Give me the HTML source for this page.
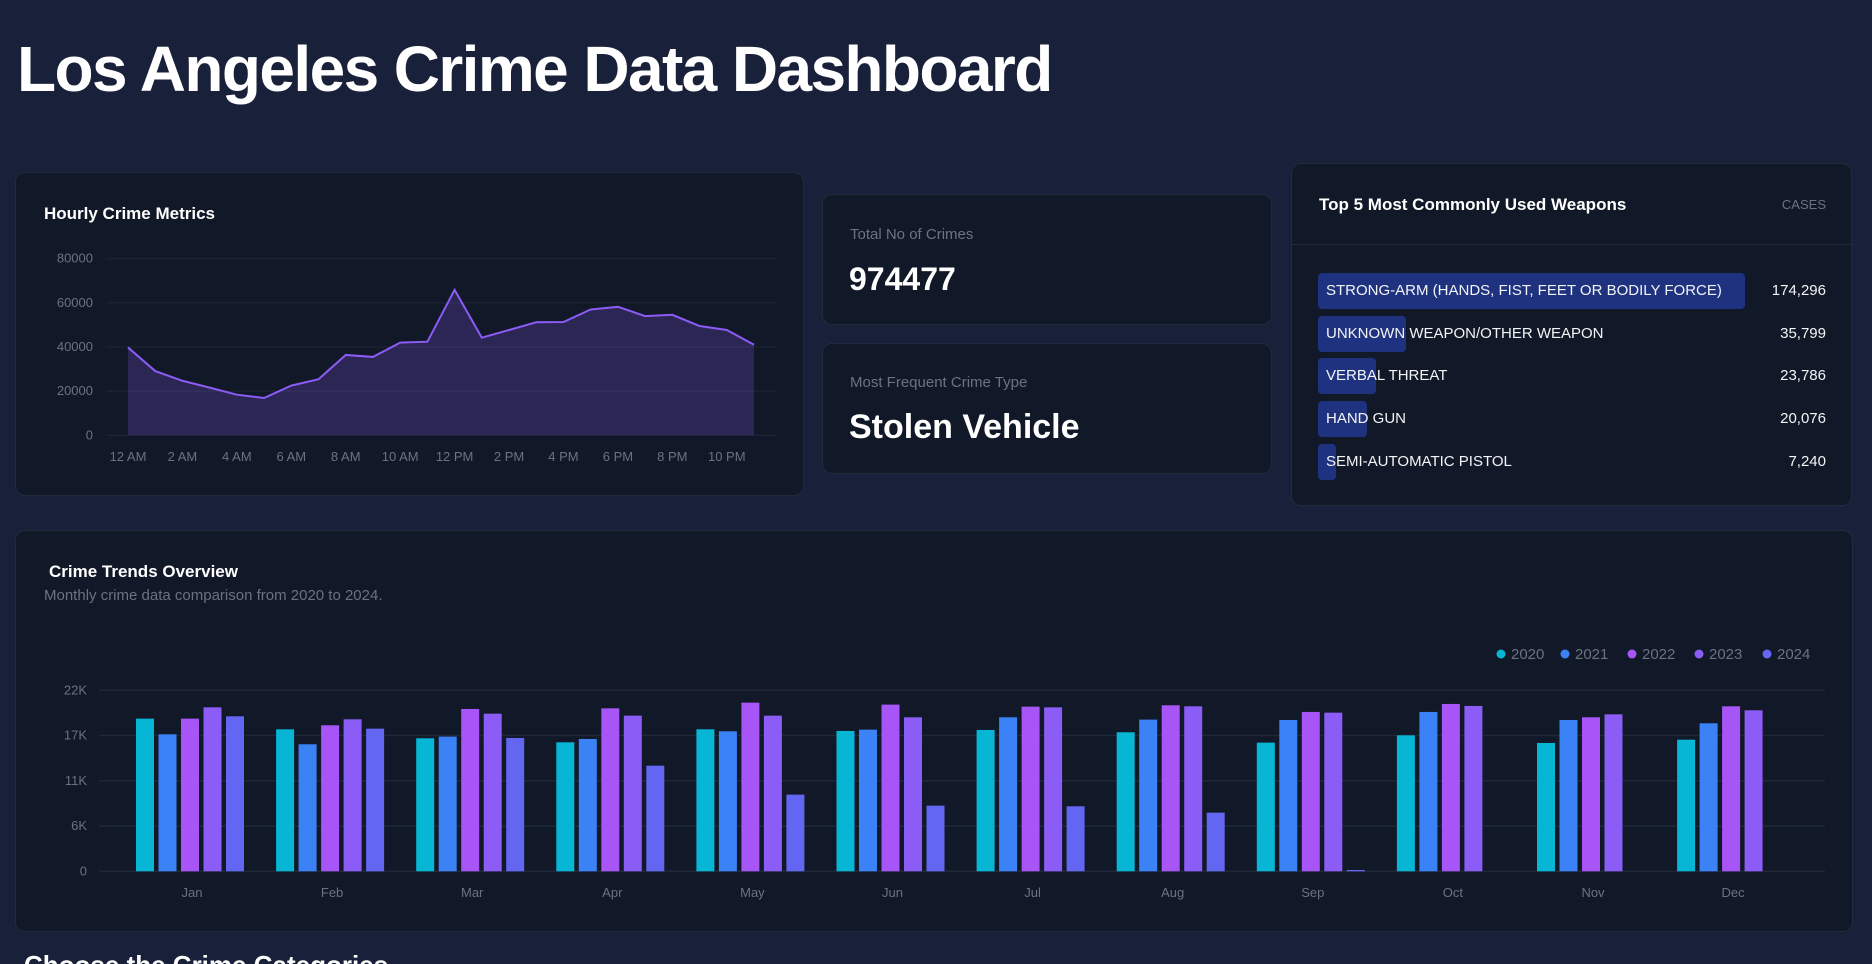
<!DOCTYPE html>
<html style="overflow:hidden;height:964px"><head><meta charset="utf-8">
<style>
body{margin:0;width:1872px;height:964px;overflow:hidden;background:#19203a;font-family:"Liberation Sans",sans-serif;color:#fff;position:relative}
.card{position:absolute;background:#111827;border:1px solid #222b3c;border-radius:10px;box-sizing:border-box}
.abs{position:absolute;white-space:nowrap}
svg text{font-family:"Liberation Sans",sans-serif}
</style></head><body>
<div class="abs" style="left:17px;top:32px;font-size:64px;font-weight:bold;letter-spacing:-1.6px">Los Angeles Crime Data Dashboard</div>

<div class="card" style="left:15px;top:172px;width:789px;height:324px">
<div class="abs" style="left:28px;top:31px;font-size:17px;font-weight:bold">Hourly Crime Metrics</div>
</div>
<svg id="line" style="position:absolute;left:0;top:0" width="820" height="500"></svg>

<div class="card" style="left:822px;top:194px;width:450px;height:131px">
<div class="abs" style="left:27px;top:31px;font-size:15px;color:#6b7280">Total No of Crimes</div>
<div class="abs" style="left:26px;top:66px;font-size:32px;font-weight:bold">974477</div>
</div>
<div class="card" style="left:822px;top:343px;width:450px;height:131px">
<div class="abs" style="left:27px;top:30px;font-size:15px;color:#6b7280">Most Frequent Crime Type</div>
<div class="abs" style="left:26px;top:64px;font-size:34px;font-weight:bold">Stolen Vehicle</div>
</div>

<div class="card" style="left:1291px;top:163px;width:561px;height:343px">
<div class="abs" style="left:27px;top:31px;font-size:17px;font-weight:bold">Top 5 Most Commonly Used Weapons</div>
<div class="abs" style="right:25px;top:33px;font-size:13px;color:#6b7280">CASES</div>
<div class="abs" style="left:0;right:0;top:80px;height:1px;background:#222b3c"></div>
<div id="weapons"></div>
</div>

<div class="card" style="left:15px;top:530px;width:1838px;height:402px">
<div class="abs" style="left:33px;top:31px;font-size:17px;font-weight:bold">Crime Trends Overview</div>
<div class="abs" style="left:28px;top:56px;font-size:15px;color:#6b7280">Monthly crime data comparison from 2020 to 2024.</div>
</div>
<svg id="bars" style="position:absolute;left:0;top:0" width="1872" height="964"></svg>

<div class="abs" style="left:24px;top:950px;font-size:26px;font-weight:bold;height:14px;overflow:hidden">Choose the Crime Categories</div>

<script>
const hours=["12 AM","1 AM","2 AM","3 AM","4 AM","5 AM","6 AM","7 AM","8 AM","9 AM","10 AM","11 AM","12 PM","1 PM","2 PM","3 PM","4 PM","5 PM","6 PM","7 PM","8 PM","9 PM","10 PM","11 PM"];
const hourlyCrimes=[39800,29100,24700,21600,18400,16900,22500,25400,36400,35500,42000,42400,65900,44200,47700,51200,51300,57000,58200,54000,54600,49500,47700,41000];
const lineTicks=[0,20000,40000,60000,80000];

const months=["Jan","Feb","Mar","Apr","May","Jun","Jul","Aug","Sep","Oct","Nov","Dec"];
const years=["2020","2021","2022","2023","2024"];
const s2020=[18556,17260,16170,15680,17260,17060,17180,16900,15640,16530,15600,16000];
const s2021=[16650,15440,16370,16085,17020,17220,18720,18435,18390,19370,18390,17990];
const s2022=[18556,17750,19730,19810,20500,20260,20015,20180,19370,20340,18720,20055];
const s2023=[19930,18475,19160,18920,18920,18720,19930,20055,19285,20100,19080,19570];
const s2024=[18840,17340,16200,12840,9320,7980,7900,7130,160,null,null,null];
const barTickValues=[0,5500,11000,16500,22000];
const barTickLabels=["0","6K","11K","17K","22K"];

const weaponNames=["STRONG-ARM (HANDS, FIST, FEET OR BODILY FORCE)","UNKNOWN WEAPON/OTHER WEAPON","VERBAL THREAT","HAND GUN","SEMI-AUTOMATIC PISTOL"];
const weaponCases=[174296,35799,23786,20076,7240];

const NS="http://www.w3.org/2000/svg";
function mk(p,tag,attrs){const e=document.createElementNS(NS,tag);for(const k in attrs)e.setAttribute(k,attrs[k]);p.appendChild(e);return e;}

const L=document.getElementById('line');
const lx=i=>128+i*(754-128)/(hours.length-1);
const ly=v=>435.3-v/80000*(435.3-258.7);
lineTicks.forEach((t,i)=>{
 const g=mk(L,'line',{x1:106,x2:776,y1:ly(t),y2:ly(t),stroke:'#1f2838','stroke-width':1});
 
 
 const tx=mk(L,'text',{x:93,y:ly(t)+4,'text-anchor':'end','font-size':13,fill:'#6b7280'});tx.textContent=t;
 
 
});
hours.forEach((h,i)=>{ if(i%2)return;
 const tx=mk(L,'text',{x:lx(i),y:461,'text-anchor':'middle','font-size':13,fill:'#6b7280'});tx.textContent=h;
 
 
});
let pts=hourlyCrimes.map((v,i)=>lx(i)+','+ly(v)).join(' ');
const area=mk(L,'polygon',{points:lx(0)+','+ly(0)+' '+pts+' '+lx(hours.length-1)+','+ly(0),fill:'rgba(139,92,246,0.22)'});


const pl=mk(L,'polyline',{points:pts,fill:'none',stroke:'#8b5cf6','stroke-width':2});



const W=document.getElementById('weapons');
const maxW=Math.max(...weaponCases);
weaponNames.forEach((n,i)=>{
 const top=109+i*42.7;
 const b=document.createElement('div');
 
 
 b.style.cssText=`position:absolute;left:26px;top:${top}px;height:36px;width:${weaponCases[i]/maxW*427}px;background:#1e3280;border-radius:4px`;
 W.appendChild(b);
 const l=document.createElement('div');
 
 
 l.className='abs';l.style.cssText=`left:34px;top:${top+9}px;font-size:15px;color:#f3f4f6`;l.textContent=n;W.appendChild(l);
 const v=document.createElement('div');
 
 
 v.className='abs';v.style.cssText=`right:25px;top:${top+9}px;font-size:15px;color:#f3f4f6`;v.textContent=weaponCases[i].toLocaleString('en-US');W.appendChild(v);
});

const B=document.getElementById('bars');
const series=[s2020,s2021,s2022,s2023,s2024];
const colors=['#06b6d4','#3b82f6','#a855f7','#8b5cf6','#6366f1'];
const by=v=>871.3-v/22000*(871.3-690.3);
const bx=i=>192+i*140.1;
barTickValues.forEach((t,i)=>{
 const g=mk(B,'line',{x1:99,x2:1825,y1:by(t),y2:by(t),stroke:'#1f2838','stroke-width':1.5});
 
 
 const tx=mk(B,'text',{x:87,y:by(t)+4,'text-anchor':'end','font-size':13,fill:'#6b7280'});tx.textContent=barTickLabels[i];
 
 
});
months.forEach((m,i)=>{
 const tx=mk(B,'text',{x:bx(i),y:897,'text-anchor':'middle','font-size':13,fill:'#6b7280'});tx.textContent=m;
 
 
 series.forEach((s,k)=>{ const v=s[i]; if(v==null)return;
  const r=mk(B,'rect',{x:bx(i)-56+k*22.5,y:by(v),width:18,height:by(0)-by(v),fill:colors[k]});
  
  
 });
});
const legX=[1501,1565,1632,1699,1767];
years.forEach((y,k)=>{
 const c=mk(B,'circle',{cx:legX[k],cy:654,r:4.5,fill:colors[k]});
 
 
 const tx=mk(B,'text',{x:legX[k]+10,y:659,'font-size':15,fill:'#6b7280'});tx.textContent=y;
 
 
});
</script>
</body></html>
